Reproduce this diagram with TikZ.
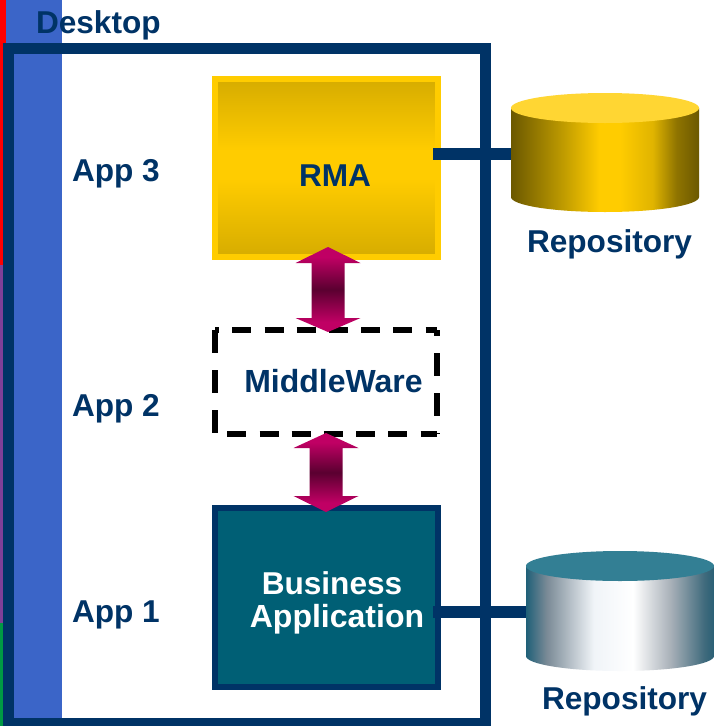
\documentclass[tikz,border=0pt]{standalone}
\usepackage{fontspec}
\setmainfont{Liberation Sans}
\definecolor{navy}{HTML}{003366}
\definecolor{gold}{HTML}{FFCC00}
\definecolor{goldedge}{HTML}{D6AC00}
\definecolor{stripblue}{HTML}{3B65C8}
\definecolor{stripviolet}{HTML}{7F3F98}
\definecolor{stripgreen}{HTML}{009944}
\definecolor{teal}{HTML}{005F75}
\definecolor{magen}{HTML}{C00064}
\definecolor{darkmag}{HTML}{5A0030}
\definecolor{cyldark}{HTML}{6B5800}
\definecolor{goldA}{HTML}{BF9B00}
\definecolor{goldB}{HTML}{E0B400}
\definecolor{goldC}{HTML}{8F7400}
\definecolor{goldtop}{HTML}{FFD633}
\definecolor{tealtop}{HTML}{337F94}
\definecolor{silverL}{HTML}{1F6078}
\definecolor{silverR}{HTML}{2A6075}
\definecolor{silverA}{HTML}{7A8A96}
\definecolor{silverB}{HTML}{F0F4F8}
\definecolor{silverC}{HTML}{A8B0B8}
\definecolor{silverD}{HTML}{3F6A7C}
\pgfdeclareverticalshading{rmashade}{100bp}{color(0bp)=(goldedge);color(25bp)=(goldedge);color(47bp)=(gold);color(55bp)=(gold);color(75bp)=(goldedge);color(100bp)=(goldedge)}
\pgfdeclareverticalshading{arrowshade}{100bp}{color(0bp)=(magen);color(31bp)=(magen);color(50bp)=(darkmag);color(69bp)=(magen);color(100bp)=(magen)}
\pgfdeclarehorizontalshading{goldcyl}{100bp}{color(0bp)=(cyldark);color(25bp)=(cyldark);color(38.8bp)=(goldA);color(48.5bp)=(gold);color(54bp)=(gold);color(62.7bp)=(goldB);color(69bp)=(goldC);color(75bp)=(cyldark);color(100bp)=(cyldark)}
\pgfdeclarehorizontalshading{silvercyl}{100bp}{color(0bp)=(silverL);color(25bp)=(silverL);color(30.5bp)=(silverA);color(43bp)=(silverB);color(53.5bp)=(white);color(63.5bp)=(silverC);color(72.5bp)=(silverD);color(75bp)=(silverR);color(100bp)=(silverR)}
\tikzset{
  lbl/.style={font=\fontsize{31.6}{38}\bfseries\selectfont,text=navy,inner sep=0pt,outer sep=0pt},
  wide/.style={font=\fontsize{32}{38}\bfseries\selectfont},
  wlbl/.style={lbl,text=white,align=center},
  link/.style={line width=12pt,navy,line cap=butt},
  midedge/.style={line width=6pt,black,line cap=butt},
  bar/.style={line width=11pt,draw=navy},
  rmabox/.style={draw=gold,line width=6pt,shading=rmashade,inner sep=0pt,minimum width=223pt,minimum height=178pt},
  bizbox/.style={draw=navy,fill=teal,line width=6pt,inner sep=0pt,minimum width=223pt,minimum height=179pt},
  midbox/.style={inner sep=0pt,minimum width=221pt,minimum height=103pt},
  anchorbox/.style={inner sep=0pt,minimum width=188pt,minimum height=104pt},
  updown/.style={shading=arrowshade,draw=none},
}
% #1 centre x, #2 tip top, #3 upper head base, #4 lower head base, #5 tip bottom
\newcommand{\bothways}[5]{%
  \path[updown] (#1,#2) -- (#1+32.5,#3) -- (#1+16.5,#3) -- (#1+16.5,#4) -- (#1+32.5,#4)
    -- (#1,#5) -- (#1-32.5,#4) -- (#1-16.5,#4) -- (#1-16.5,#3) -- (#1-32.5,#3) -- cycle;}
% #1 left x, #2 centre x, #3 right x, #4 top-ellipse y, #5 body-bottom y, #6 shading, #7 top colour
\newcommand{\drum}[7]{%
  \path[shading=#6] (#1,#4) -- (#1,#5) arc[start angle=180,end angle=0,x radius=#2-#1,y radius=15] -- (#3,#4) -- cycle;
  \fill[#7] (#2,#4) ellipse[x radius=#2-#1,y radius=15];}
\begin{document}
\begin{tikzpicture}[x=1pt,y=-1pt]
\useasboundingbox (0,0) rectangle (713,726);
\fill[white] (0,0) rectangle (713,726);
% left strips
\fill[red] (0,0) rectangle (6,43);
\fill[red] (0,43) rectangle (3,265);
\fill[stripviolet] (0,265) rectangle (3,623);
\fill[stripgreen] (0,623) rectangle (3,726);
\fill[stripblue] (6,0) rectangle (62,726);
% desktop frame
\draw[bar] (8.5,48.5) rectangle (485.5,723.5);
% repositories
\node[anchorbox] (repoA) at (605,152) {};
\node[anchorbox] (repoB) at (620,611) {};
% boxes
\node[rmabox] (rma) at (326.5,168) {};
\node[bizbox] (biz) at (326.5,597.5) {};
\node[midbox] (mid) at (326,382) {};
\coordinate (rmaEnd) at ([xshift=-8pt]rma.east);
\coordinate (bizEnd) at ([xshift=-8pt]biz.east);
\draw[link] (rmaEnd |- repoA.west) ++(0,2) coordinate (rmaLink) (rmaLink) -- (rmaLink -| repoA.west);
\draw[link] (bizEnd |- repoB.west) ++(0,1) coordinate (bizLink) (bizLink) -- (bizLink -| repoB.west);
\drum{511}{605}{699}{108}{197}{goldcyl}{goldtop}
\drum{526}{620}{714}{566}{656}{silvercyl}{tealtop}
% middleware dashed outline
\draw[midedge,dash pattern=on 19pt off 13.2pt,dash phase=-17pt] (mid.north west) -- (mid.north east);
\draw[midedge,dash pattern=on 19pt off 13.2pt,dash phase=-12pt] (mid.south west) -- (mid.south east);
\draw[midedge,dash pattern=on 23pt off 17pt] (mid.north west) -- (mid.south west);
\draw[midedge,dash pattern=on 23pt off 17pt,dash phase=17pt] (mid.north east) -- (mid.south east);
% double arrows
\bothways{328}{247}{263}{318}{332}
\bothways{326}{433}{448}{496}{512}
% labels
\node[lbl,anchor=base west] (desktop) at (36,33) {Desktop};
\node[lbl,anchor=base west] (app3) at (72,181) {App 3};
\node[lbl,anchor=base west] (app2) at (72,416) {App 2};
\node[lbl,anchor=base west] (app1) at (72,622) {App 1};
\node[lbl,anchor=base] (rmaText) at (335,186) {RMA};
\node[lbl,wide,anchor=base] (midText) at (333.5,392) {MiddleWare};
\node[wlbl,anchor=base] (bizA) at (332,594) {Business};
\node[wlbl,wide,anchor=base] (bizB) at (337,627) {Application};
\node[lbl,anchor=base west] (repoTextA) at (527,252) {Repository};
\node[lbl,anchor=base west] (repoTextB) at (542,709) {Repository};
\end{tikzpicture}
\end{document}
